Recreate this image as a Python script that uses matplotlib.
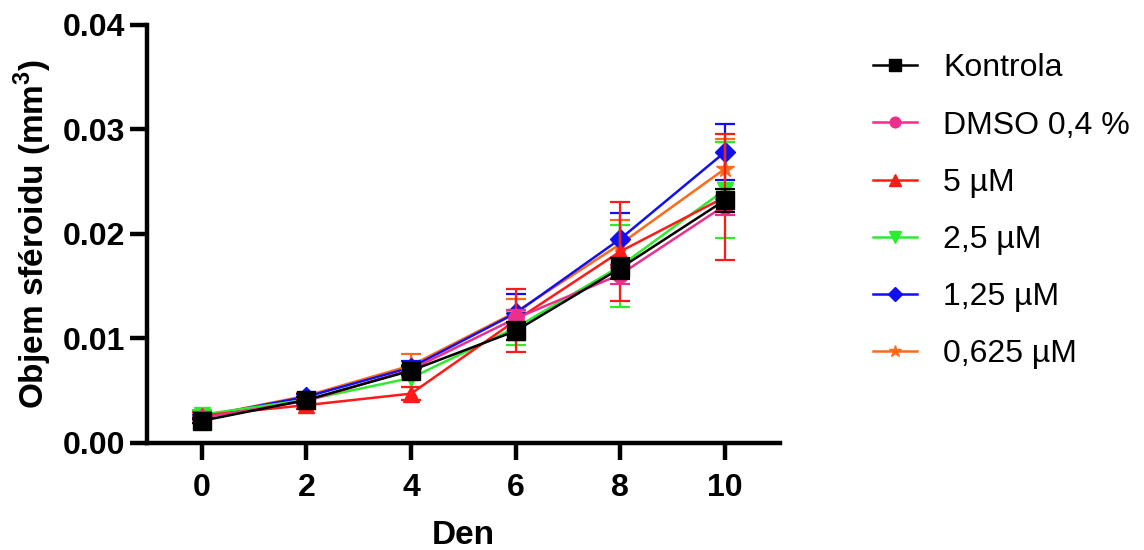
import matplotlib
matplotlib.use("Agg")
import matplotlib.pyplot as plt

plt.rcParams['font.family'] = ['Liberation Sans', 'DejaVu Sans']
plt.rcParams['mathtext.fontset'] = 'custom'
plt.rcParams['mathtext.rm'] = 'Liberation Sans'
plt.rcParams['mathtext.bf'] = 'Liberation Sans:bold'

# Dny měření
days = [0, 2, 4, 6, 8, 10]

# Průměrné objemy a SD pro jednotlivé skupiny
labels = ['Kontrola', 'DMSO 0,4 %', '5 µM', '2,5 µM', '1,25 µM', '0,625 µM']
kontrola = [0.0021, 0.0041, 0.0069, 0.0107, 0.0167, 0.0232]
kontrola_sd = [0.0002, 0.0003, 0.0004, 0.0009, 0.0010, 0.0011]
dmso = [0.0024, 0.0040, 0.0070, 0.0119, 0.0161, 0.0227]
dmso_sd = [0.0002, 0.0003, 0.0004, 0.0008, 0.0009, 0.0009]
c5 = [0.0026, 0.0036, 0.0047, 0.0117, 0.0183, 0.0235]
c5_sd = [0.0003, 0.0004, 0.0006, 0.0030, 0.0047, 0.0060]
c25 = [0.0027, 0.0041, 0.0062, 0.0110, 0.0169, 0.0242]
c25_sd = [0.0004, 0.0003, 0.0009, 0.0016, 0.0039, 0.0046]
c125 = [0.0025, 0.0044, 0.0072, 0.0124, 0.0195, 0.0278]
c125_sd = [0.0002, 0.0003, 0.0006, 0.0018, 0.0025, 0.0027]
c0625 = [0.0025, 0.0045, 0.0074, 0.0125, 0.0190, 0.0262]
c0625_sd = [0.0002, 0.0003, 0.0011, 0.0013, 0.0023, 0.0029]

series = [kontrola, dmso, c5, c25, c125, c0625]
errors = [kontrola_sd, dmso_sd, c5_sd, c25_sd, c125_sd, c0625_sd]
colors = ['#000000', '#EC2F8C', '#FF1A1A', '#2EEB2E', '#1010F0', '#FF6A1A']
markers = ['s', 'o', '^', 'v', 'D', '*']
msizes = [13, 11, 12, 12, 10, 13]

fig = plt.figure(figsize=(11.44, 5.5), dpi=100)
ax = fig.add_axes([0.1285, 0.195, 0.553, 0.76])

# kreslit v obráceném pořadí, aby kontrola byla nahoře
for i in reversed(range(len(series))):
    ax.errorbar(days, series[i], yerr=errors[i], color=colors[i],
                marker=markers[i], markersize=msizes[i], linewidth=1.8,
                elinewidth=1.6, capsize=7, capthick=1.6, zorder=3 + (6 - i))

ax.set_xlim(-1.05, 11.05)
ax.set_ylim(0, 0.04)
ax.set_xticks(days)
ax.set_yticks([0.0, 0.01, 0.02, 0.03, 0.04])
ax.set_yticklabels(['0.00', '0.01', '0.02', '0.03', '0.04'])

for s in ['top', 'right']:
    ax.spines[s].set_visible(False)
for s in ['left', 'bottom']:
    ax.spines[s].set_linewidth(3.2)

ax.tick_params(axis='both', direction='out', length=12, width=3.2, labelsize=23)
ax.tick_params(axis='x', pad=10)
ax.tick_params(axis='y', pad=4)
for lab in ax.get_xticklabels() + ax.get_yticklabels():
    lab.set_fontweight('bold')

ax.set_xlabel('Den', fontsize=24, fontweight='bold', labelpad=12)
ax.set_ylabel(r'Objem sféroidu (mm$^\mathbf{3}$)', fontsize=24, fontweight='bold', labelpad=6)

legend_handles = []
for i in range(len(series)):
    h, = ax.plot([], [], color=colors[i], marker=markers[i], markersize=msizes[i] * 0.7,
                 linewidth=1.8)
    legend_handles.append(h)
fig.legend(legend_handles, labels, loc='upper left', bbox_to_anchor=(0.738, 0.955),
           frameon=False, fontsize=23, handlelength=1.38, handletextpad=0.82,
           labelspacing=0.85)

fig.savefig('out.png', dpi=100)
